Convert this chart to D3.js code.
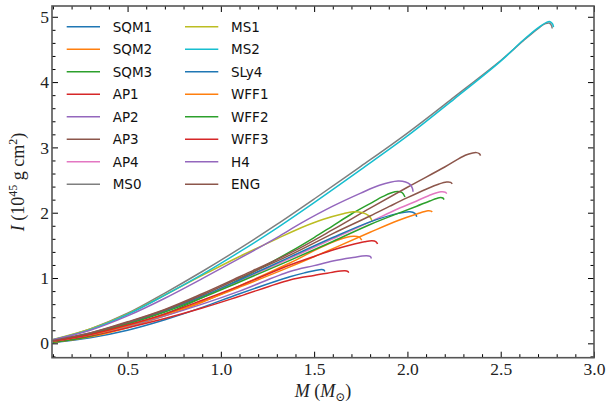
<!DOCTYPE html>
<html>
<head>
<meta charset="utf-8">
<script src="https://cdn.jsdelivr.net/npm/d3@7"></script>
<style>
  html, body { margin: 0; padding: 0; background: #fff; }
  svg { display: block; }
</style>
</head>
<body>
<svg id="chart" width="606" height="406"></svg>
<script>
// ---- Data (M in solar masses, I in 1e45 g cm^2) ----
const seriesNames = ["SQM1","SQM2","SQM3","AP1","AP2","AP3","AP4","MS0","MS1","MS2","SLy4","WFF1","WFF2","WFF3","H4","ENG"];
const seriesColors = ["#1f77b4","#ff7f0e","#2ca02c","#d62728","#9467bd","#8c564b","#e377c2","#7f7f7f","#bcbd22","#17becf","#1f77b4","#ff7f0e","#2ca02c","#d62728","#9467bd","#8c564b"];

const SQM1 = [[0.1,0.012],[0.3,0.085],[0.5,0.20],[0.7,0.36],[0.9,0.55],[1.1,0.76],[1.37,1.02],[1.45,1.08],[1.5,1.11],[1.54,1.13],[1.553,1.12],[1.557,1.10]];
const SQM2 = [[0.1,0.014],[0.3,0.10],[0.5,0.24],[0.7,0.42],[0.9,0.63],[1.1,0.88],[1.37,1.23],[1.5,1.42],[1.6,1.55],[1.67,1.62],[1.71,1.64],[1.74,1.63],[1.755,1.58]];
const SQM3 = [[0.1,0.015],[0.3,0.11],[0.5,0.26],[0.7,0.45],[0.9,0.70],[1.1,0.98],[1.37,1.40],[1.5,1.62],[1.6,1.80],[1.7,1.98],[1.8,2.14],[1.87,2.25],[1.933,2.32],[1.97,2.31],[1.987,2.24]];
const AP1  = [[0.1,0.03],[0.3,0.12],[0.5,0.24],[0.7,0.38],[0.9,0.54],[1.1,0.72],[1.37,0.97],[1.5,1.04],[1.6,1.09],[1.665,1.11],[1.68,1.10],[1.685,1.08]];
const AP2  = [[0.1,0.035],[0.3,0.13],[0.5,0.26],[0.7,0.42],[0.9,0.60],[1.1,0.80],[1.37,1.10],[1.5,1.19],[1.6,1.26],[1.7,1.31],[1.78,1.34],[1.8,1.33],[1.807,1.30]];
const AP3  = [[0.1,0.045],[0.3,0.16],[0.5,0.33],[0.7,0.52],[0.9,0.76],[1.1,1.02],[1.37,1.38],[1.6,1.74],[1.8,2.07],[2.0,2.39],[2.2,2.70],[2.31,2.88],[2.35,2.915],[2.37,2.92],[2.385,2.905],[2.392,2.875]];
const AP4  = [[0.1,0.04],[0.3,0.15],[0.5,0.30],[0.7,0.49],[0.9,0.71],[1.1,0.96],[1.37,1.30],[1.6,1.60],[1.8,1.86],[1.95,2.06],[2.05,2.18],[2.13,2.28],[2.18,2.32],[2.205,2.31],[2.21,2.29]];
const MS0  = [[0.1,0.05],[0.3,0.22],[0.5,0.46],[0.7,0.77],[0.9,1.10],[1.1,1.45],[1.3,1.82],[1.5,2.21],[1.75,2.71],[2.0,3.22],[2.25,3.77],[2.5,4.33],[2.62,4.63],[2.7,4.82],[2.74,4.895],[2.76,4.905],[2.772,4.87],[2.776,4.82]];
const MS1  = [[0.1,0.06],[0.3,0.22],[0.5,0.45],[0.7,0.74],[0.9,1.04],[1.1,1.33],[1.3,1.60],[1.43,1.77],[1.55,1.90],[1.65,1.98],[1.71,2.015],[1.76,2.0],[1.79,1.96],[1.805,1.91],[1.81,1.86]];
const MS2  = [[0.1,0.055],[0.3,0.21],[0.5,0.442],[0.7,0.738],[0.9,1.055],[1.1,1.40],[1.3,1.765],[1.5,2.155],[1.75,2.66],[2.0,3.175],[2.25,3.74],[2.5,4.32],[2.62,4.64],[2.7,4.83],[2.745,4.915],[2.765,4.925],[2.778,4.89],[2.783,4.84]];
const SLy4 = [[0.1,0.04],[0.3,0.15],[0.5,0.31],[0.7,0.50],[0.9,0.72],[1.1,0.97],[1.37,1.32],[1.6,1.62],[1.8,1.86],[1.95,1.99],[2.013,2.015],[2.04,1.99],[2.05,1.94]];
const WFF1 = [[0.1,0.035],[0.3,0.13],[0.5,0.27],[0.7,0.44],[0.9,0.64],[1.1,0.86],[1.37,1.17],[1.6,1.45],[1.8,1.70],[1.95,1.88],[2.05,1.98],[2.11,2.03],[2.127,2.025],[2.133,2.01]];
const WFF2 = [[0.1,0.04],[0.3,0.145],[0.5,0.295],[0.7,0.48],[0.9,0.70],[1.1,0.94],[1.37,1.27],[1.6,1.56],[1.8,1.82],[1.95,1.99],[2.05,2.10],[2.12,2.18],[2.17,2.23],[2.19,2.225],[2.196,2.20]];
const WFF3 = [[0.1,0.035],[0.3,0.135],[0.5,0.28],[0.7,0.45],[0.9,0.66],[1.1,0.88],[1.37,1.20],[1.5,1.33],[1.6,1.43],[1.7,1.51],[1.77,1.555],[1.81,1.57],[1.832,1.555],[1.84,1.52]];
const H4   = [[0.1,0.055],[0.3,0.20],[0.5,0.42],[0.7,0.69],[0.9,0.99],[1.1,1.30],[1.3,1.62],[1.43,1.84],[1.6,2.10],[1.75,2.30],[1.85,2.42],[1.95,2.485],[1.99,2.47],[2.015,2.43],[2.027,2.37],[2.03,2.32]];
const ENG  = [[0.1,0.045],[0.3,0.16],[0.5,0.32],[0.7,0.51],[0.9,0.74],[1.1,1.00],[1.37,1.35],[1.6,1.68],[1.8,1.95],[1.906,2.10],[2.0,2.23],[2.1,2.36],[2.17,2.44],[2.21,2.47],[2.232,2.465],[2.24,2.44]];

const seriesData = [SQM1,SQM2,SQM3,AP1,AP2,AP3,AP4,MS0,MS1,MS2,SLy4,WFF1,WFF2,WFF3,H4,ENG];

const xMajor = [0.5, 1.0, 1.5, 2.0, 2.5, 3.0];
const xMinor = d3.range(1, 30).map(d => d / 10);
const yMajor = [0, 1, 2, 3, 4, 5];
const yMinor = d3.range(-1, 26).map(d => d / 5);

// ---- Layout ----
const L = 52, R = 594, T = 6, B = 357.7;
const x = d3.scaleLinear().domain([0.095, 3.0]).range([L, R]);
const y = d3.scaleLinear().domain([-0.22, 5.165]).range([B, T]);

const svg = d3.select("#chart");
const serif = "'Liberation Serif', 'DejaVu Serif', serif";

svg.append("defs").append("clipPath").attr("id", "clip")
  .append("rect").attr("x", L).attr("y", T).attr("width", R - L).attr("height", B - T);

// curves
const line = d3.line().x(d => x(d[0])).y(d => y(d[1])).curve(d3.curveCatmullRom.alpha(0.5));
const plot = svg.append("g").attr("clip-path", "url(#clip)");
seriesData.forEach((s, i) => {
  plot.append("path").attr("d", line(s)).attr("fill", "none")
    .attr("stroke", seriesColors[i]).attr("stroke-width", 1.5)
    .attr("stroke-linejoin", "round").attr("stroke-linecap", "butt");
});

// axes with inward ticks
function styleAxis(g) {
  g.select(".domain").remove();
  g.selectAll(".tick line").attr("stroke", "#000").attr("stroke-width", 1);
  g.selectAll(".tick text").attr("font-family", serif).attr("font-size", 17.5).attr("fill", "#222");
}
const fmtX = d3.format(".1f");
const notMajor = (arr, maj) => arr.filter(v => maj.every(m => Math.abs(m - v) > 1e-9));
svg.append("g").attr("transform", `translate(0,${B})`)
  .call(d3.axisBottom(x).tickValues(xMajor).tickSize(-6).tickPadding(5).tickFormat(fmtX)).call(styleAxis);
svg.append("g").attr("transform", `translate(0,${B})`)
  .call(d3.axisBottom(x).tickValues(notMajor(xMinor, xMajor)).tickSize(-3.5).tickFormat("")).call(styleAxis);
svg.append("g").attr("transform", `translate(0,${T})`)
  .call(d3.axisTop(x).tickValues(xMajor).tickSize(-6).tickFormat("")).call(styleAxis);
svg.append("g").attr("transform", `translate(0,${T})`)
  .call(d3.axisTop(x).tickValues(notMajor(xMinor, xMajor)).tickSize(-3.5).tickFormat("")).call(styleAxis);

svg.append("g").attr("transform", `translate(${L},0)`)
  .call(d3.axisLeft(y).tickValues(yMajor).tickSize(-6).tickPadding(3).tickFormat(d3.format("d"))).call(styleAxis);
svg.append("g").attr("transform", `translate(${L},0)`)
  .call(d3.axisLeft(y).tickValues(notMajor(yMinor, yMajor)).tickSize(-3.5).tickFormat("")).call(styleAxis);
svg.append("g").attr("transform", `translate(${R},0)`)
  .call(d3.axisRight(y).tickValues(yMajor).tickSize(-6).tickFormat("")).call(styleAxis);
svg.append("g").attr("transform", `translate(${R},0)`)
  .call(d3.axisRight(y).tickValues(notMajor(yMinor, yMajor)).tickSize(-3.5).tickFormat("")).call(styleAxis);

// frame
svg.append("rect").attr("x", L).attr("y", T).attr("width", R - L).attr("height", B - T)
  .attr("fill", "none").attr("stroke", "#555").attr("stroke-width", 1.6);

// legend
const legend = svg.append("g");
seriesNames.forEach((n, i) => {
  const col = Math.floor(i / 8), row = i % 8;
  const lx = col === 0 ? 66.7 : 185;
  const ly = 26.7 + row * 22.5;
  legend.append("line").attr("x1", lx).attr("x2", lx + 33.3).attr("y1", ly).attr("y2", ly)
    .attr("stroke", seriesColors[i]).attr("stroke-width", 1.5);
  legend.append("text").attr("x", lx + 46).attr("y", ly).attr("dy", "0.36em")
    .attr("font-family", "'DejaVu Sans', sans-serif").attr("font-size", 13.5).attr("fill", "#111")
    .text(n);
});

// axis labels
const xl = svg.append("text").attr("x", 323).attr("y", 397).attr("text-anchor", "middle")
  .attr("font-family", serif).attr("font-size", 18).attr("fill", "#222");
xl.append("tspan").attr("font-style", "italic").text("M");
xl.append("tspan").text(" (");
xl.append("tspan").attr("font-style", "italic").text("M");
xl.append("tspan").attr("font-size", 12).attr("dy", 4).text("\u2299");
xl.append("tspan").attr("dy", -4).text(")");

const yl = svg.append("text").attr("transform", "translate(24,182) rotate(-90)").attr("text-anchor", "middle")
  .attr("font-family", serif).attr("font-size", 18).attr("fill", "#222");
yl.append("tspan").attr("font-style", "italic").text("I");
yl.append("tspan").text(" (10");
yl.append("tspan").attr("font-size", 12).attr("dy", -7).text("45");
yl.append("tspan").attr("dy", 7).text(" g cm");
yl.append("tspan").attr("font-size", 12).attr("dy", -7).text("2");
yl.append("tspan").attr("dy", 7).text(")");
</script>
</body>
</html>
